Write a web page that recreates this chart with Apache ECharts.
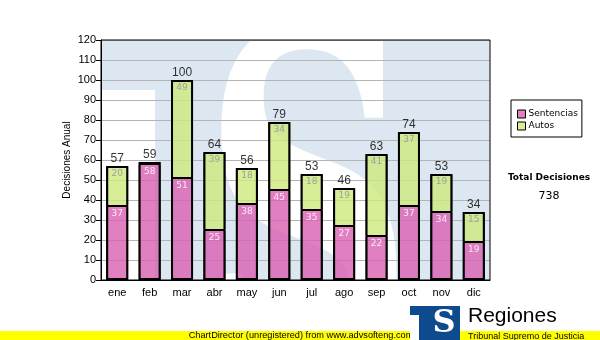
<!DOCTYPE html>
<html><head><meta charset="utf-8">
<script src="https://cdn.jsdelivr.net/npm/echarts@6/dist/echarts.min.js"></script>
<style>html,body{margin:0;padding:0;background:#fff}#c{width:600px;height:340px}</style>
</head><body><div id="c"></div>
<script>
const months = ['ene','feb','mar','abr','may','jun','jul','ago','sep','oct','nov','dic'];
const sentencias = [37,58,51,25,38,45,35,27,22,37,34,19];
const autos = [20,1,49,39,18,34,18,19,41,37,19,15];
const totals = sentencias.map((v,i)=>v+autos[i]);
const grandTotal = totals.reduce((a,b)=>a+b,0);
const yMin = 0, yMax = 120, yStep = 10;

const AR = '"Liberation Sans", Arial, sans-serif';
const DV = '"DejaVu Sans", sans-serif';

const chart = echarts.init(document.getElementById('c'), null, {renderer:'canvas'});
chart.setOption({
  animation:false,
  backgroundColor:'#fff',
  grid:{left:101,right:110,top:40,bottom:60,show:true,borderColor:'#000',borderWidth:1,backgroundColor:'transparent',z:1},
  legend:{
    orient:'vertical', left:511, top:100,
    data:['Sentencias','Autos'],
    backgroundColor:'#fff', borderColor:'#000', borderWidth:1,
    padding:[8,4,5,6], itemGap:0, itemWidth:8, itemHeight:8,
    icon:'rect',
    itemStyle:{borderColor:'#000',borderWidth:1},
    textStyle:{fontSize:9,fontFamily:DV,color:'#000',lineHeight:12,padding:[0,0,0,-2]}
  },
  graphic:[
    {type:'rect',z:-10,shape:{x:101,y:40,width:389,height:240},style:{fill:'#dde7f1'}},
    {type:'rect',z:-9,shape:{x:101,y:90,width:54,height:190},style:{fill:'#fff'}},
    {type:'text',z:-8,x:308,y:249,scaleX:0.89,scaleY:1.43,style:{text:'S',fill:'#fff',font:'bold 330px "DejaVu Serif"',align:'center',verticalAlign:'middle',textAlign:'center',textVerticalAlign:'middle'}},
    {type:'text',x:67,y:160,rotation:Math.PI/2,style:{text:'Decisiones Anual',fill:'#000',font:'10px "Liberation Sans"',align:'center',verticalAlign:'middle',textAlign:'center',textVerticalAlign:'middle'}},
    {type:'text',x:549,y:178,style:{text:'Total Decisiones',fill:'#000',font:'bold 9px "DejaVu Sans"',align:'center',verticalAlign:'middle',textAlign:'center',textVerticalAlign:'middle'}},
    {type:'text',x:549,y:196,style:{text:String(grandTotal),fill:'#000',font:'11px "DejaVu Sans"',align:'center',verticalAlign:'middle',textAlign:'center',textVerticalAlign:'middle'}},
    {type:'rect',shape:{x:0,y:331,width:600,height:9},style:{fill:'#ffff00'}},
    {type:'text',x:301,y:335.5,style:{text:'ChartDirector (unregistered) from www.advsofteng.com',fill:'#000',font:'9.2px "Liberation Sans"',align:'center',verticalAlign:'middle',textAlign:'center',textVerticalAlign:'middle'}},
    {type:'rect',shape:{x:410,y:306,width:50,height:34},style:{fill:'#0d4a8e'}},
    {type:'rect',shape:{x:410,y:315,width:9,height:25},style:{fill:'#fff'}},
    {type:'text',x:444,y:324,style:{text:'S',fill:'#fff',font:'bold 32px "DejaVu Serif"',align:'center',verticalAlign:'middle',textAlign:'center',textVerticalAlign:'middle'}},
    {type:'text',x:468,y:316,style:{text:'Regiones',fill:'#000',font:'21px "Liberation Sans"',align:'left',verticalAlign:'middle',textAlign:'left',textVerticalAlign:'middle'}},
    {type:'text',x:468,y:337,style:{text:'Tribunal Supremo de Justicia',fill:'#000',font:'9px "Liberation Sans"',align:'left',verticalAlign:'middle',textAlign:'left',textVerticalAlign:'middle'}}
  ],
  xAxis:{
    type:'category', data:months,
    axisLine:{lineStyle:{color:'#000',width:1}},
    axisTick:{alignWithLabel:true,length:5,lineStyle:{color:'#000'}},
    axisLabel:{fontSize:11,fontFamily:AR,color:'#000',margin:7},
    splitLine:{show:false}
  },
  yAxis:{
    type:'value', min:yMin, max:yMax, interval:yStep,
    axisLine:{show:true,lineStyle:{color:'#000',width:1}},
    axisTick:{show:true,length:5,lineStyle:{color:'#000'}},
    axisLabel:{fontSize:11,fontFamily:AR,color:'#000',margin:5},
    splitLine:{lineStyle:{color:'#b4b4b4',width:1}}
  },
  series:[
    {name:'Sentencias',type:'bar',stack:'t',data:sentencias,barWidth:22,z:3,
     itemStyle:{color:'rgba(216,96,178,0.8)',borderColor:'#000',borderWidth:1},
     label:{show:true,position:'insideTop',distance:3,fontSize:9,fontFamily:DV,color:'#fbe8f6'}},
    {name:'Autos',type:'bar',stack:'t',data:autos,barWidth:22,z:3,
     itemStyle:{color:'rgba(205,234,125,0.8)',borderColor:'#000',borderWidth:1},
     label:{show:true,position:'insideTop',distance:3,fontSize:9,fontFamily:DV,color:'#a0a0a0',
       formatter:p=>p.value>=5?String(p.value):''}},
    {name:'Outline',type:'bar',data:totals,barWidth:22,barGap:'-100%',z:4,silent:true,
     itemStyle:{color:'rgba(0,0,0,0)',borderColor:'#000',borderWidth:2}},
    {name:'Total',type:'scatter',data:totals,symbolSize:0,z:5,silent:true,
     label:{show:true,position:'top',distance:1,fontSize:12,fontFamily:AR,color:'#000'}}
  ]
});
</script></body></html>
